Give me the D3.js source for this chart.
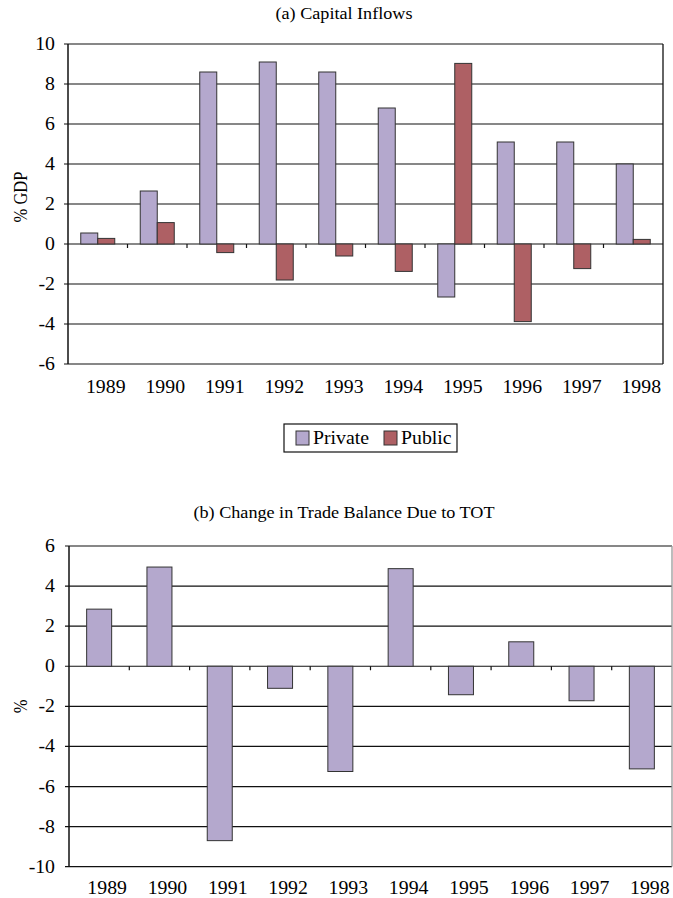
<!DOCTYPE html>
<html>
<head>
<meta charset="utf-8">
<script src="https://cdn.jsdelivr.net/npm/d3@7"></script>
<style>
  body { margin: 0; background: #fff; }
  svg text { font-family: "Liberation Serif", "Times New Roman", serif; fill: #000; }
</style>
</head>
<body>
<svg id="chart"></svg>
<script>
var width = 673;
var height = 898;

// data
var years = ['1989', '1990', '1991', '1992', '1993', '1994', '1995', '1996', '1997', '1998'];
var seriesNames = ['Private', 'Public'];
var privateFlows = [0.55, 2.65, 8.6, 9.1, 8.6, 6.8, -2.65, 5.1, 5.1, 4.0];
var publicFlows = [0.28, 1.07, -0.43, -1.8, -0.6, -1.37, 9.03, -3.88, -1.23, 0.23];
var totChange = [2.85, 4.95, -8.7, -1.1, -5.25, 4.87, -1.42, 1.22, -1.72, -5.12];
var ticksA = [-6, -4, -2, 0, 2, 4, 6, 8, 10];
var ticksB = [-10, -8, -6, -4, -2, 0, 2, 4, 6];

var colors = { Private: '#b4a8cd', Public: '#ae6064' };
var SX = 1.1; // the reference text is a bit wide

var svg = d3.select('#chart')
    .attr('width', width)
    .attr('height', height);

// text helper, slightly stretched horizontally
function label(parent, x, y, str, size, anchor, rotate) {
    return parent.append('text')
        .attr('transform', `translate(${x},${y}) scale(${SX},1)` + (rotate ? ' rotate(-90)' : ''))
        .attr('font-size', size)
        .attr('text-anchor', anchor || 'middle')
        .text(str);
}

function drawPanel(opts) {
    var g = svg.append('g');

    var x = d3.scaleBand()
        .domain(years)
        .range([opts.left, opts.right])
        .paddingInner(opts.pad)
        .paddingOuter(opts.pad / 2);

    var y = d3.scaleLinear()
        .domain(d3.extent(opts.ticks))
        .range([opts.bottom, opts.top]);

    label(g, 344, opts.titleY, opts.title, 16.5);

    // gridlines incl. outward tick stubs
    g.selectAll('.grid')
        .data(opts.ticks)
        .enter()
        .append('line')
            .attr('x1', opts.left - 4)
            .attr('x2', opts.right)
            .attr('y1', d => y(d))
            .attr('y2', d => y(d))
            .attr('stroke', '#111')
            .attr('stroke-width', 1.2);

    opts.ticks.forEach(t => label(g, 55, y(t) + 6, t, 18, 'end'));

    // frame
    g.append('line')
        .attr('x1', opts.left).attr('x2', opts.left)
        .attr('y1', opts.top).attr('y2', opts.bottom)
        .attr('stroke', '#111').attr('stroke-width', 1.5);
    g.append('line')
        .attr('x1', opts.right).attr('x2', opts.right)
        .attr('y1', opts.top).attr('y2', opts.bottom)
        .attr('stroke', opts.rightColor).attr('stroke-width', 1.3);

    // bars
    var sub = d3.scaleBand()
        .domain(opts.series.map(s => s.name))
        .range([0, x.bandwidth()]);

    opts.series.forEach(s => {
        g.selectAll('.bar-' + s.name)
            .data(s.values)
            .enter()
            .append('rect')
                .attr('x', (d, i) => x(years[i]) + sub(s.name))
                .attr('y', d => y(Math.max(0, d)))
                .attr('width', sub.bandwidth())
                .attr('height', d => Math.abs(y(d) - y(0)))
                .attr('fill', colors[s.name])
                .attr('stroke', '#333')
                .attr('stroke-width', 1);
    });

    // category ticks on the zero line
    var step = x.step();
    d3.range(1, years.length).forEach(i => {
        var tx = opts.left + i * step;
        g.append('line')
            .attr('x1', tx).attr('x2', tx)
            .attr('y1', y(0)).attr('y2', y(0) + 4)
            .attr('stroke', '#111').attr('stroke-width', 1.2);
    });

    years.forEach(yr => label(g, x(yr) + x.bandwidth() / 2 + 8, opts.labelY, yr, 18));

    label(g, 27, (opts.top + opts.bottom) / 2 + opts.yLabelShift, opts.yLabel, 16.5, 'middle', true);

    return g;
}

drawPanel({
    title: '(a) Capital Inflows', titleY: 19,
    left: 68, right: 663, top: 44, bottom: 364,
    ticks: ticksA, pad: 1 - 34 / 59.5,
    series: [{ name: 'Private', values: privateFlows }, { name: 'Public', values: publicFlows }],
    labelY: 393, yLabel: '% GDP', yLabelShift: -7, rightColor: '#111'
});

drawPanel({
    title: '(b) Change in Trade Balance Due to TOT', titleY: 518,
    left: 69, right: 672, top: 546, bottom: 866.7,
    ticks: ticksB, pad: 1 - 25 / 60.3,
    series: [{ name: 'Private', values: totChange }],
    labelY: 894, yLabel: '%', yLabelShift: 0, rightColor: '#999'
});

// legend for panel (a)
var legend = svg.append('g');
legend.append('rect')
    .attr('x', 284).attr('y', 424)
    .attr('width', 173).attr('height', 28)
    .attr('fill', '#fff').attr('stroke', '#111').attr('stroke-width', 1.2);

var legendX = [296, 384];
seriesNames.forEach((name, i) => {
    legend.append('rect')
        .attr('x', legendX[i]).attr('y', 431)
        .attr('width', 13).attr('height', 14)
        .attr('fill', colors[name]).attr('stroke', '#333').attr('stroke-width', 1);
    label(legend, legendX[i] + 17, 444, name, 18, 'start');
});
</script>
</body>
</html>
